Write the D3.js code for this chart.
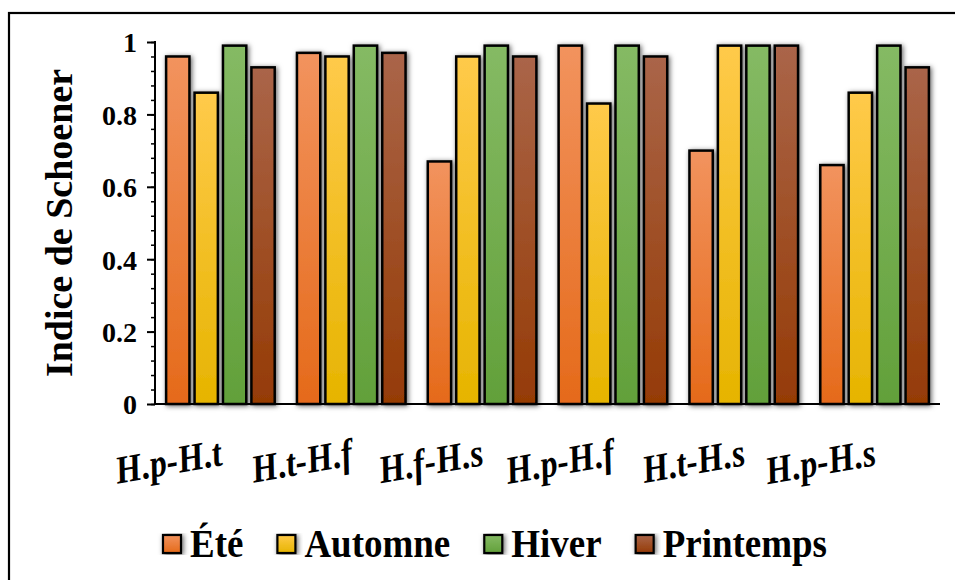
<!DOCTYPE html>
<html>
<head>
<meta charset="utf-8">
<script src="https://cdn.jsdelivr.net/npm/d3@7/dist/d3.min.js"></script>
<style>
  html, body { margin: 0; padding: 0; background: #fff; }
  svg { display: block; }
  text { font-family: "Liberation Serif", "Times New Roman", serif; font-weight: bold; fill: #000; }
</style>
</head>
<body>
<svg id="chart" width="955" height="580"></svg>
<script>
// Schoener overlap index between pairs of species, per season
const categories = ["H.p-H.t", "H.t-H.f", "H.f-H.s", "H.p-H.f", "H.t-H.s", "H.p-H.s"];
const seasons = ["Été", "Automne", "Hiver", "Printemps"];
const ete       = [0.96, 0.97, 0.67, 0.99, 0.70, 0.66];
const automne   = [0.86, 0.96, 0.96, 0.83, 0.99, 0.86];
const hiver     = [0.99, 0.99, 0.99, 0.99, 0.99, 0.99];
const printemps = [0.93, 0.97, 0.96, 0.96, 0.99, 0.93];
const yTicks = [0, 0.2, 0.4, 0.6, 0.8, 1];
const yTickLabels = ["0", "0.2", "0.4", "0.6", "0.8", "1"];

const seriesValues = [ete, automne, hiver, printemps];
// top / bottom colours of each season's gradient
const gradTop    = ["#F2935E", "#FFCA4A", "#85BA64", "#AA6549"];
const gradBottom = ["#E56A1A", "#E6B400", "#62A03A", "#953B05"];

const svg = d3.select("#chart");
const defs = svg.append("defs");

seasons.forEach((s, i) => {
  const g = defs.append("linearGradient")
    .attr("id", "grad" + i).attr("x1", 0).attr("y1", 0).attr("x2", 0).attr("y2", 1);
  g.append("stop").attr("offset", "0%").attr("stop-color", gradTop[i]);
  g.append("stop").attr("offset", "100%").attr("stop-color", gradBottom[i]);
});

const shadow = defs.append("filter").attr("id", "shadow")
  .attr("x", "-40%").attr("y", "-10%").attr("width", "180%").attr("height", "120%");
shadow.append("feDropShadow")
  .attr("dx", 1.5).attr("dy", 1).attr("stdDeviation", 2.4)
  .attr("flood-color", "#000").attr("flood-opacity", 0.6);

// outer frame (runs past the right and bottom edges)
svg.append("rect")
  .attr("x", 9).attr("y", 13).attr("width", 980).attr("height", 600)
  .attr("fill", "none").attr("stroke", "#000").attr("stroke-width", 2.2);

const plot = { left: 155, right: 940, top: 42, bottom: 404 };

const x0 = d3.scaleBand().domain(categories)
  .range([plot.left, plot.right]).paddingInner(0.17).paddingOuter(0.085);
const x1 = d3.scaleBand().domain(seasons)
  .range([0, x0.bandwidth()]).paddingInner(0.18);
const y = d3.scaleLinear().domain([0, 1]).range([plot.bottom, plot.top]);

// bars
const groups = svg.append("g").selectAll("g").data(categories).join("g")
  .attr("transform", d => `translate(${x0(d)},0)`);

groups.selectAll("rect")
  .data((c, ci) => seasons.map((s, si) => ({ s, si, v: seriesValues[si][ci] })))
  .join("rect")
  .attr("x", d => x1(d.s))
  .attr("y", d => y(d.v))
  .attr("width", x1.bandwidth())
  .attr("height", d => y(0) - y(d.v))
  .attr("fill", d => `url(#grad${d.si})`)
  .attr("stroke", "#000")
  .attr("stroke-width", 2.5)
  .attr("filter", "url(#shadow)");

// y axis with major and minor ticks
const yAxis = svg.append("g").attr("transform", `translate(${plot.left},0)`);
yAxis.call(d3.axisLeft(y).tickValues(d3.range(0, 1.0001, 0.04)).tickSize(4).tickFormat(""))
  .call(g => g.select(".domain").remove())
  .call(g => g.selectAll("line").attr("stroke", "#000").attr("stroke-width", 1.5));
yAxis.append("g")
  .call(d3.axisLeft(y).tickValues(yTicks).tickSize(8).tickPadding(10)
    .tickFormat((d, i) => yTickLabels[i]))
  .call(g => g.select(".domain").remove())
  .call(g => g.selectAll("line").attr("stroke", "#000").attr("stroke-width", 2))
  .call(g => g.selectAll("text")
    .attr("font-size", 28).attr("font-family", null).attr("fill", "#000")
    .attr("dy", "0.35em"));
yAxis.append("line")
  .attr("x1", 0).attr("x2", 0).attr("y1", plot.top - 1).attr("y2", plot.bottom + 1)
  .attr("stroke", "#000").attr("stroke-width", 2);

// x axis baseline
svg.append("line")
  .attr("x1", plot.left).attr("x2", plot.right)
  .attr("y1", plot.bottom).attr("y2", plot.bottom)
  .attr("stroke", "#000").attr("stroke-width", 2);

// category labels, slanted and slightly tall
svg.append("g").selectAll("text").data(categories).join("text")
  .attr("transform", d => `translate(${x0(d) + x0.bandwidth() / 2 + 3},465) rotate(-10) scale(1,1.15)`)
  .attr("text-anchor", "end")
  .attr("font-size", 34)
  .attr("font-style", "italic")
  .text(d => d);

// y axis title
svg.append("text")
  .attr("transform", `translate(72,${(plot.top + plot.bottom) / 2}) rotate(-90)`)
  .attr("text-anchor", "middle")
  .attr("font-size", 38)
  .text("Indice de Schoener");

// legend
const legend = svg.append("g");
const items = legend.selectAll("g").data(seasons).join("g");
items.append("rect")
  .attr("width", 18).attr("height", 18).attr("y", 535)
  .attr("fill", (d, i) => `url(#grad${i})`)
  .attr("stroke", "#000").attr("stroke-width", 2.2)
  .attr("filter", "url(#shadow)");
items.append("text")
  .attr("transform", "translate(27,557) scale(1,1.1)")
  .attr("font-size", 37)
  .text(d => d);
let cursor = 0;
const positions = [];
items.each(function () {
  const w = d3.select(this).select("text").node().getComputedTextLength();
  positions.push(cursor);
  cursor += 27 + w + 34;
});
const total = cursor - 34;
const startX = 495 - total / 2;
items.attr("transform", (d, i) => `translate(${startX + positions[i]},0)`);
</script>
</body>
</html>
